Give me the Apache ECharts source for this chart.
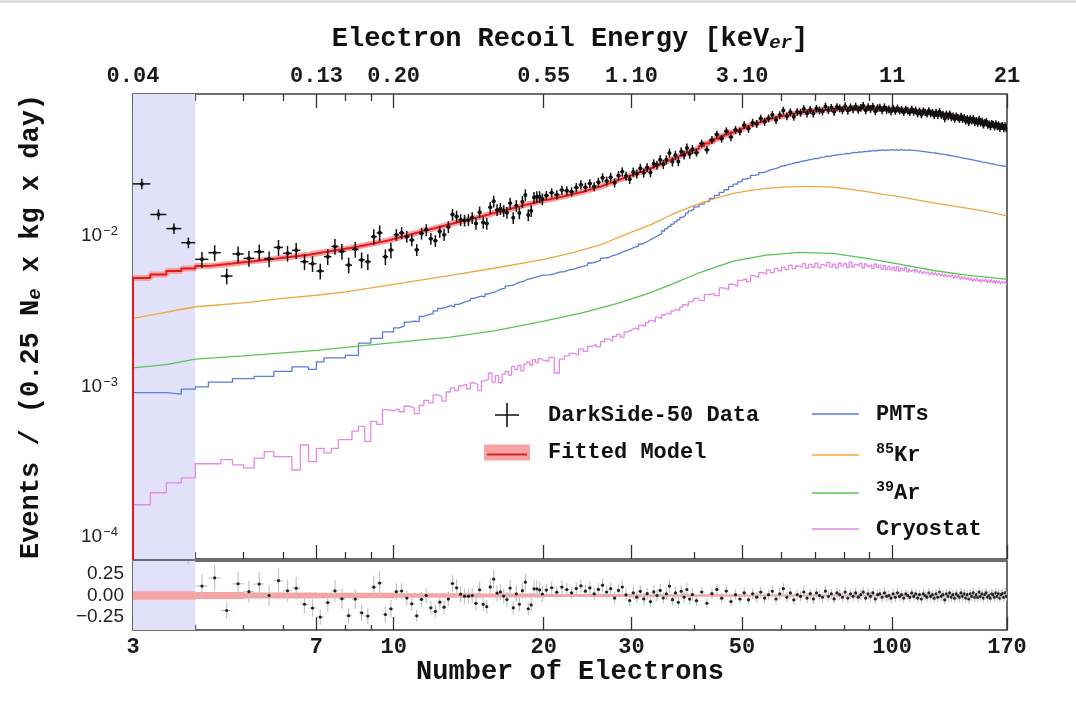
<!DOCTYPE html>
<html>
<head>
<meta charset="utf-8">
<title>DarkSide-50 electron spectrum</title>
<script src="https://cdn.jsdelivr.net/npm/echarts@6/dist/echarts.min.js"></script>
<style>
  html, body { margin: 0; padding: 0; background: #fff; }
  #chart { width: 1076px; height: 721px; }
</style>
</head>
<body>
<div id="chart"></div>
<script>
// binning of the spectrum: [from, to, width] in number of electrons
const binSegments = [[3, 20, 0.25], [20, 40, 0.5], [40, 170, 1]];

// DarkSide-50 data, events / (0.25 Ne x kg x day), one value per bin
const dataRate = [
  0.0222, 0.0139, 0.0112, 0.00903,
  0.0070, 0.00775, 0.00542, 0.0076, 0.00711, 0.00785, 0.00705, 0.0084, 0.00768, 0.00803, 0.00675, 0.00655,
  0.00585, 0.00729, 0.00853, 0.0079, 0.00641, 0.00816, 0.00694, 0.00675, 0.00989, 0.0105, 0.00729, 0.00807,
  0.0102, 0.0105, 0.0099, 0.0094, 0.0081, 0.0104, 0.0110, 0.0096, 0.0093, 0.0107,
  0.0102, 0.0115, 0.0139, 0.0135, 0.0128, 0.0127, 0.0128, 0.0132, 0.0121, 0.0144,
  0.0123, 0.0121, 0.0155, 0.0170, 0.0149, 0.0152, 0.0147, 0.0143, 0.0165, 0.0132,
  0.0159, 0.0142, 0.0169, 0.0187, 0.0138, 0.0147, 0.0180, 0.0182, 0.0182, 0.0176,
  0.0186, 0.0194, 0.0188, 0.0202, 0.0200, 0.0197, 0.0210, 0.0219, 0.0211, 0.0223,
  0.0213, 0.0228, 0.0244, 0.0232, 0.0246, 0.0226, 0.0252, 0.0267, 0.0250, 0.0238,
  0.0266, 0.0259, 0.0282, 0.0263, 0.0285, 0.0264, 0.0302, 0.0296, 0.0321, 0.0300,
  0.0321, 0.0356, 0.0311, 0.0344, 0.0313, 0.0364, 0.0346, 0.0385, 0.0351, 0.0376,
  0.0358, 0.0412, 0.0374, 0.0435, 0.0473, 0.0444, 0.0497, 0.0454, 0.0507, 0.0495,
  0.0546, 0.0516, 0.0566, 0.0556, 0.0603, 0.0574, 0.0606, 0.0638, 0.0591, 0.0636,
  0.0681, 0.0625, 0.0665, 0.0620, 0.0667, 0.0660, 0.0697, 0.0653, 0.0690, 0.0652,
  0.0702, 0.0685, 0.0674, 0.0726, 0.0687, 0.0711, 0.0670, 0.0719, 0.0706, 0.0686,
  0.0729, 0.0681, 0.0717, 0.0696, 0.0725, 0.0691, 0.0712, 0.0734, 0.0685, 0.0720,
  0.0699, 0.0725, 0.0675, 0.0708, 0.0714, 0.0684, 0.0718, 0.0689, 0.0695, 0.0672,
  0.0706, 0.0676, 0.0709, 0.0680, 0.0692, 0.0663, 0.0695, 0.0680, 0.0664, 0.0696,
  0.0667, 0.0685, 0.0650, 0.0676, 0.0640, 0.0678, 0.0663, 0.0648, 0.0679, 0.0651,
  0.0663, 0.0633, 0.0663, 0.0634, 0.0670, 0.0635, 0.0644, 0.0603, 0.0645, 0.0623,
  0.0646, 0.0612, 0.0627, 0.0599, 0.0627, 0.0612, 0.0597, 0.0624, 0.0597, 0.0613,
  0.0582, 0.0603, 0.0570, 0.0603, 0.0582, 0.0603, 0.0570, 0.0585, 0.0564, 0.0596,
  0.0565, 0.0579, 0.0548, 0.0568, 0.0576, 0.0546, 0.0554, 0.0534, 0.0559, 0.0551,
  0.0532, 0.0557, 0.0534, 0.0548, 0.0519, 0.0538, 0.0542, 0.0517, 0.0541, 0.0517
];

// fitted model, same bins
const fitModel = [
  0.00527, 0.00556, 0.00585, 0.00608,
  0.00631, 0.00644, 0.00656, 0.00669, 0.00681, 0.00693, 0.00705, 0.00717, 0.00728, 0.00740, 0.00751, 0.00766,
  0.00780, 0.00794, 0.00809, 0.00822, 0.00837, 0.00851, 0.00869, 0.00886, 0.00902, 0.00918, 0.00935, 0.00955,
  0.00977, 0.00998, 0.0102, 0.0104, 0.0106, 0.0109, 0.0110, 0.0112, 0.0114, 0.0116,
  0.0118, 0.0120, 0.0122, 0.0124, 0.0126, 0.0128, 0.0129, 0.0132, 0.0133, 0.0135,
  0.0137, 0.0139, 0.0141, 0.0143, 0.0145, 0.0146, 0.0148, 0.0150, 0.0152, 0.0154,
  0.0156, 0.0158, 0.0160, 0.0162, 0.0163, 0.0165, 0.0167, 0.0169, 0.0171, 0.0173,
  0.0175, 0.0178, 0.0181, 0.0184, 0.0187, 0.0191, 0.0194, 0.0197, 0.0201, 0.0205,
  0.0209, 0.0213, 0.0218, 0.0223, 0.0228, 0.0233, 0.0238, 0.0243, 0.0248, 0.0253,
  0.0258, 0.0264, 0.0269, 0.0274, 0.0279, 0.0284, 0.0290, 0.0296, 0.0303, 0.0309,
  0.0315, 0.0321, 0.0327, 0.0334, 0.0340, 0.0347, 0.0353, 0.0360, 0.0366, 0.0372,
  0.0381, 0.0396, 0.0411, 0.0426, 0.0442, 0.0458, 0.0473, 0.0488, 0.0502, 0.0516,
  0.0530, 0.0543, 0.0555, 0.0567, 0.0580, 0.0592, 0.0600, 0.0608, 0.0616, 0.0624,
  0.0631, 0.0638, 0.0646, 0.0653, 0.0660, 0.0667, 0.0670, 0.0673, 0.0676, 0.0679,
  0.0682, 0.0685, 0.0688, 0.0691, 0.0694, 0.0697, 0.0698, 0.0698, 0.0699, 0.0700,
  0.0701, 0.0702, 0.0703, 0.0703, 0.0704, 0.0705, 0.0705, 0.0706, 0.0706, 0.0706,
  0.0706, 0.0704, 0.0703, 0.0701, 0.0700, 0.0698, 0.0697, 0.0696, 0.0695, 0.0693,
  0.0692, 0.0690, 0.0688, 0.0687, 0.0685, 0.0683, 0.0681, 0.0680, 0.0678, 0.0676,
  0.0674, 0.0672, 0.0670, 0.0669, 0.0667, 0.0665, 0.0663, 0.0661, 0.0659, 0.0658,
  0.0656, 0.0653, 0.0650, 0.0647, 0.0644, 0.0641, 0.0638, 0.0635, 0.0632, 0.0629,
  0.0627, 0.0624, 0.0621, 0.0618, 0.0615, 0.0612, 0.0609, 0.0606, 0.0603, 0.0601,
  0.0600, 0.0597, 0.0594, 0.0591, 0.0588, 0.0585, 0.0582, 0.0579, 0.0576, 0.0573,
  0.0571, 0.0568, 0.0565, 0.0562, 0.0559, 0.0557, 0.0554, 0.0551, 0.0548, 0.0546,
  0.0543, 0.0541, 0.0539, 0.0537, 0.0535, 0.0533, 0.0531, 0.0528, 0.0525, 0.0522
];

// PMT component, same bins
const pmts = [
  0.00091, 0.00091, 0.00089, 0.00096,
  0.000995, 0.00107, 0.00107, 0.00113, 0.00113, 0.00117, 0.00117, 0.00126, 0.00126, 0.00135, 0.00135, 0.00130,
  0.00146, 0.00155, 0.00155, 0.00155, 0.00161, 0.00161, 0.00194, 0.00194, 0.00209, 0.00209, 0.00231, 0.00231,
  0.00245, 0.00252, 0.00268, 0.00272, 0.00270, 0.00292, 0.00300, 0.00305, 0.00318, 0.00330,
  0.00336, 0.00345, 0.00340, 0.00352, 0.00360, 0.00368, 0.00372, 0.00385, 0.00392, 0.00398,
  0.00396, 0.00412, 0.00420, 0.00425, 0.00438, 0.00445, 0.00450, 0.00466, 0.00470, 0.00476,
  0.00488, 0.00495, 0.00500, 0.00514, 0.00519, 0.00525, 0.00532, 0.00540, 0.00546, 0.00550,
  0.00552, 0.00560, 0.00575, 0.00580, 0.00596, 0.00603, 0.00618, 0.00628, 0.00640, 0.00662,
  0.00672, 0.00690, 0.00712, 0.00720, 0.00740, 0.00752, 0.00770, 0.00792, 0.00805, 0.00824,
  0.00845, 0.00858, 0.00885, 0.00905, 0.00930, 0.00958, 0.00985, 0.0101, 0.0104, 0.0108,
  0.0112, 0.0116, 0.0120, 0.0124, 0.0128, 0.0133, 0.0137, 0.0142, 0.0147, 0.0151,
  0.0156, 0.0163, 0.0169, 0.0178, 0.0186, 0.0195, 0.0203, 0.0214, 0.0221, 0.0229,
  0.0239, 0.0244, 0.0253, 0.0256, 0.0264, 0.0268, 0.0275, 0.0279, 0.0284, 0.0291,
  0.0293, 0.0299, 0.0302, 0.0307, 0.0309, 0.0315, 0.0316, 0.0321, 0.0323, 0.0328,
  0.0327, 0.0333, 0.0334, 0.0339, 0.0338, 0.0343, 0.0344, 0.0347, 0.0349, 0.0350,
  0.0354, 0.0352, 0.0357, 0.0359, 0.0358, 0.0362, 0.0361, 0.0365, 0.0364, 0.0368,
  0.0366, 0.0370, 0.0368, 0.0372, 0.0370, 0.0373, 0.0371, 0.0374, 0.0372, 0.0375,
  0.0372, 0.0374, 0.0371, 0.0375, 0.0372, 0.0374, 0.0370, 0.0373, 0.0369, 0.0371,
  0.0368, 0.0369, 0.0365, 0.0367, 0.0362, 0.0364, 0.0360, 0.0361, 0.0357, 0.0358,
  0.0355, 0.0356, 0.0352, 0.0353, 0.0349, 0.0350, 0.0346, 0.0347, 0.0343, 0.0344,
  0.0340, 0.0341, 0.0337, 0.0337, 0.0334, 0.0334, 0.0330, 0.0331, 0.0327, 0.0328,
  0.0324, 0.0325, 0.0321, 0.0322, 0.0318, 0.0319, 0.0315, 0.0316, 0.0312, 0.0313,
  0.0310, 0.0310, 0.0307, 0.0308, 0.0304, 0.0305, 0.0302, 0.0302, 0.0299, 0.0300,
  0.0297, 0.0297, 0.0295, 0.0295, 0.0293, 0.0293, 0.0291, 0.0291, 0.0289, 0.0289
];

// cryostat component, same bins
const cryostat = [
  0.000164, 0.000197, 0.000229, 0.000247,
  0.000307, 0.000307, 0.000327, 0.000302, 0.000288, 0.000335, 0.000369, 0.000342, 0.000342, 0.000279, 0.000409, 0.000317,
  0.000388, 0.000362, 0.000388, 0.000444, 0.000444, 0.000505, 0.000544, 0.000432, 0.000587, 0.000560, 0.000703, 0.000690,
  0.00071, 0.00068, 0.00074, 0.00072, 0.00066, 0.00075, 0.00081, 0.00078, 0.00088, 0.00086,
  0.00080, 0.00092, 0.00098, 0.00094, 0.00101, 0.00104, 0.00096, 0.00106, 0.00103, 0.00094,
  0.00109, 0.00112, 0.00123, 0.00107, 0.00118, 0.00106, 0.00121, 0.00126, 0.00119, 0.00136,
  0.00130, 0.00138, 0.00127, 0.00141, 0.00146, 0.00139, 0.00151, 0.00144, 0.00153, 0.00149,
  0.00147, 0.00156, 0.00123, 0.00152, 0.00160, 0.00166, 0.00162, 0.00178, 0.00171, 0.00185,
  0.00190, 0.00184, 0.00199, 0.00207, 0.00201, 0.00215, 0.00222, 0.00213, 0.00231, 0.00238,
  0.00245, 0.00239, 0.00256, 0.00251, 0.00266, 0.00275, 0.00270, 0.00289, 0.00283, 0.00300,
  0.00308, 0.00302, 0.00318, 0.00326, 0.00319, 0.00337, 0.00350, 0.00343, 0.00365, 0.00372,
  0.00385, 0.00372, 0.00408, 0.00415, 0.00402, 0.00452, 0.00440, 0.00478, 0.00465, 0.00508,
  0.00520, 0.00498, 0.00545, 0.00530, 0.00571, 0.00560, 0.00595, 0.00572, 0.00610, 0.00588,
  0.00622, 0.00598, 0.00640, 0.00605, 0.00632, 0.00618, 0.00655, 0.00612, 0.00648, 0.00620,
  0.00660, 0.00615, 0.00645, 0.00628, 0.00668, 0.00622, 0.00650, 0.00612, 0.00662, 0.00630,
  0.00655, 0.00618, 0.00670, 0.00625, 0.00648, 0.00632, 0.00660, 0.00615, 0.00652, 0.00628,
  0.00645, 0.00610, 0.00652, 0.00618, 0.00640, 0.00602, 0.00635, 0.00598, 0.00628, 0.00595,
  0.00620, 0.00590, 0.00625, 0.00585, 0.00612, 0.00592, 0.00618, 0.00578, 0.00605, 0.00582,
  0.00600, 0.00572, 0.00598, 0.00568, 0.00590, 0.00560, 0.00585, 0.00562, 0.00580, 0.00552,
  0.00575, 0.00550, 0.00572, 0.00545, 0.00566, 0.00540, 0.00562, 0.00538, 0.00560, 0.00532,
  0.00555, 0.00530, 0.00552, 0.00522, 0.00545, 0.00528, 0.00548, 0.00515, 0.00540, 0.00518,
  0.00535, 0.00510, 0.00532, 0.00505, 0.00528, 0.00498, 0.00522, 0.00502, 0.00525, 0.00496,
  0.00518, 0.00492, 0.00515, 0.00498, 0.00520, 0.00488, 0.00512, 0.00490, 0.00515, 0.00485,
  0.00510, 0.00482, 0.00508, 0.00488, 0.00505, 0.00478, 0.00502, 0.00485, 0.00498, 0.00480
];

// smooth components, read at a few electron counts
const kr85N = [3, 4, 5, 6, 7, 8, 10, 13, 16, 20, 23, 26, 30, 33, 36, 40, 44, 48, 52, 56,
  60, 65, 70, 76, 82, 89, 96, 104, 112, 121, 130, 141, 155, 170];
const kr85 = [0.00284, 0.00339, 0.00360, 0.00385, 0.00404, 0.00425, 0.00478, 0.00548, 0.00613, 0.00700,
  0.00780, 0.00875, 0.0106, 0.0120, 0.0138, 0.0159, 0.0177, 0.0192, 0.0201, 0.0207,
  0.0211, 0.0213, 0.0213, 0.0211, 0.0205, 0.0197, 0.0189, 0.0182, 0.0174, 0.0166,
  0.0160, 0.0153, 0.0145, 0.0136];
const ar39N = [3, 3.5, 4, 5, 7, 10, 13, 16, 20, 24, 28, 32, 36, 41, 48, 56, 65, 76, 89, 104, 121, 141, 170];
const ar39 = [0.00133, 0.00140, 0.00152, 0.00160, 0.00174, 0.00196, 0.00213, 0.00235, 0.00272, 0.00310,
  0.00355, 0.00410, 0.00475, 0.00570, 0.00680, 0.00746, 0.00778, 0.00767, 0.00711, 0.00649,
  0.00590, 0.00550, 0.00515];

// relative error bar size, starting at these electron counts
const errFromN = [3, 4, 10, 20, 40, 100];
const errRel = [0.08, 0.12, 0.09, 0.07, 0.06, 0.055];

// model uncertainty band in the residual panel: edges and half widths
const bandEdges = [3, 4, 5, 7, 10, 15, 20, 30, 50, 100, 170];
const bandHalf = [0.05, 0.04, 0.036, 0.032, 0.027, 0.022, 0.018, 0.015, 0.012, 0.011];

const thresholdRange = [3, 4];
const xMajor = [3, 7, 10, 20, 30, 50, 100, 170];
const xMinor = [4, 5, 6, 8, 9, 40, 60, 70, 80, 90];
const energyLabels = ['0.04', '0.13', '0.20', '0.55', '1.10', '3.10', '11', '21'];
const yMajor = [1e-4, 1e-3, 1e-2];
const resMajor = [-0.25, 0, 0.25];
const resMinor = [-0.35, -0.3, -0.2, -0.15, -0.1, -0.05, 0.05, 0.1, 0.15, 0.2, 0.3, 0.35];

// ---- build bins
const binLo = [], binHi = [];
binSegments.forEach(([a, b, w]) => {
  for (let k = 0; a + k * w < b - 1e-9; k++) {
    binLo.push(a + k * w);
    binHi.push(a + (k + 1) * w);
  }
});
[dataRate, fitModel, pmts, cryostat].forEach((arr, i) => {
  if (arr.length !== binLo.length) throw new Error('array ' + i + ' has ' + arr.length + ' values, expected ' + binLo.length);
});

function errAt(n) {
  let e = errRel[0];
  errFromN.forEach((s, i) => { if (n >= s) e = errRel[i]; });
  return e;
}

function histLine(vals, dropLeft) {
  const pts = dropLeft ? [[binLo[0], 1e-7]] : [];
  vals.forEach((v, i) => pts.push([binLo[i], v]));
  pts.push([binHi[binHi.length - 1], vals[vals.length - 1]]);
  return pts;
}

function nearestIndex(arr, v) {
  let best = 0;
  arr.forEach((a, i) => {
    if (Math.abs(Math.log(a / v)) < Math.abs(Math.log(arr[best] / v))) best = i;
  });
  return best;
}

const dataItems = dataRate.map((v, i) =>
  [(binLo[i] + binHi[i]) / 2, v, binLo[i], binHi[i], errAt(binLo[i]) * v]);
const resItems = dataRate.map((v, i) => {
  const r = v / fitModel[i];
  return [(binLo[i] + binHi[i]) / 2, r - 1, binLo[i], binHi[i], errAt(binLo[i]) * r];
});
const bandItems = bandHalf.map((h, i) => [bandEdges[i], bandEdges[i + 1], h]);

function clipOf(params) {
  const cs = params.coordSys;
  return { type: 'rect', shape: { x: cs.x, y: cs.y, width: cs.width, height: cs.height } };
}

function crossRenderer(barColor, dotColor, dotR, lw) {
  return function (params, api) {
    const xc = api.value(0), y = api.value(1), lo = api.value(2), hi = api.value(3), e = api.value(4);
    const c = api.coord([xc, y]);
    const l = api.coord([lo, y]), h = api.coord([hi, y]);
    const up = api.coord([xc, y + e]), dn = api.coord([xc, y - e]);
    return {
      type: 'group',
      clipPath: clipOf(params),
      children: [
        { type: 'line', shape: { x1: l[0], y1: c[1], x2: h[0], y2: c[1] }, style: { stroke: barColor, lineWidth: lw } },
        { type: 'line', shape: { x1: c[0], y1: up[1], x2: c[0], y2: dn[1] }, style: { stroke: barColor, lineWidth: lw } },
        { type: 'circle', shape: { cx: c[0], cy: c[1], r: dotR }, style: { fill: dotColor } }
      ]
    };
  };
}

const MONO = 'Liberation Mono';
const SANS = 'Liberation Sans';
const tickColor = '#333';
const tickStyle = { color: tickColor, width: 1.3 };

const monoLabel = { fontFamily: MONO, fontWeight: 'bold', fontSize: 22, color: '#1a1a1a' };
const titleRich = {
  t: { fontFamily: MONO, fontWeight: 'bold', fontSize: 27, color: '#111' },
  s: { fontFamily: MONO, fontWeight: 'bold', fontStyle: 'italic', fontSize: 19, color: '#111', padding: [9, 0, 0, 0] }
};

const baseX = { type: 'log', min: 3, max: 170, axisLine: { show: false, onZero: false }, splitLine: { show: false } };
function xAxisDef(gridIndex, position, ticks, length, label, extra) {
  return Object.assign({}, baseX, {
    gridIndex: gridIndex,
    position: position,
    axisTick: { inside: true, length: length, customValues: ticks, lineStyle: tickStyle },
    axisLabel: label || { show: false }
  }, extra || {});
}

const legendText = { fontFamily: MONO, fontWeight: 'bold', fontSize: 22, color: '#111' };
const legendRich = {
  t: { fontFamily: MONO, fontWeight: 'bold', fontSize: 22, color: '#111', lineHeight: 26 },
  sup: { fontFamily: MONO, fontWeight: 'bold', fontSize: 15, color: '#111', lineHeight: 15, padding: [0, 0, 11, 0] }
};
const isotopeParts = { '85Kr': ['85', 'Kr'], '39Ar': ['39', 'Ar'] };
function legendFormatter(name) {
  const p = isotopeParts[name];
  return p ? '{sup|' + p[0] + '}{t|' + p[1] + '}' : '{t|' + name + '}';
}
function legendAt(item, left, centerY, itemWidth, gapText) {
  return {
    data: [item], left: left, top: centerY - 13, padding: 0,
    itemWidth: itemWidth, itemHeight: 26, selectedMode: false,
    formatter: legendFormatter,
    textStyle: Object.assign({}, legendText, { padding: [0, 0, 0, gapText], rich: legendRich })
  };
}
// thin line icon for the component legends, cross with a 46 px wide box for the data
const lineIcon = 'path://M0,0h47v1.4h-47z';
const crossIcon = 'path://M0,0h0.01v0.01h-0.01z M45.99,0h0.01v0.01h-0.01z M11,11.2h24v1.6h-24z M22.2,0h1.6v24h-1.6z';

const colors = {
  fitBand: '#f6a3a3', fit: '#e3191e', pmt: '#5a7bd8', kr: '#f2a63c', ar: '#57c457', cryo: '#e488e6'
};

const option = {
  animation: false,
  backgroundColor: '#fff',
  grid: [
    { left: 133, right: 69, top: 94, height: 465, show: true, borderColor: '#3c3c3c', borderWidth: 1.5 },
    { left: 133, right: 69, top: 561, height: 69, show: true, borderColor: '#3c3c3c', borderWidth: 1.5 }
  ],
  xAxis: [
    xAxisDef(0, 'bottom', xMajor, 14),
    xAxisDef(0, 'bottom', xMinor, 7),
    xAxisDef(0, 'top', xMajor, 14, Object.assign({
      customValues: xMajor, margin: 7,
      formatter: v => energyLabels[nearestIndex(xMajor, v)]
    }, monoLabel), {
      name: '{t|Electron Recoil Energy [keV}{s|er}{t|]}',
      nameLocation: 'middle', nameGap: 41,
      nameTextStyle: { rich: titleRich }
    }),
    xAxisDef(0, 'top', xMinor, 7),
    xAxisDef(1, 'bottom', xMajor, 13, Object.assign({
      customValues: xMajor, margin: 6,
      formatter: v => String(xMajor[nearestIndex(xMajor, v)])
    }, monoLabel), {
      name: '{t|Number of Electrons}',
      nameLocation: 'middle', nameGap: 27,
      nameTextStyle: { rich: titleRich }
    }),
    xAxisDef(1, 'bottom', xMinor, 5)
  ],
  yAxis: [
    {
      gridIndex: 0, type: 'log', min: 7.15e-5, max: 0.0878, position: 'left',
      axisLine: { show: false, onZero: false }, splitLine: { show: false },
      axisTick: { inside: true, length: 13, customValues: yMajor, lineStyle: tickStyle },
      axisLabel: {
        customValues: yMajor, margin: 15,
        formatter: v => '{b|10}{e|\u2212' + Math.round(-Math.log10(v)) + '}',
        rich: {
          b: { fontFamily: SANS, fontSize: 19, color: '#222' },
          e: { fontFamily: SANS, fontSize: 13, color: '#222', lineHeight: 13, padding: [0, 0, 9, 1] }
        }
      },
      name: '{t|Events / (0.25 N}{s|e}{t| x kg x day)}',
      nameLocation: 'middle', nameRotate: 90, nameGap: 88,
      nameTextStyle: { rich: titleRich }
    },
    {
      gridIndex: 1, type: 'value', min: -0.4, max: 0.4, position: 'left',
      axisLine: { show: false, onZero: false }, splitLine: { show: false },
      axisTick: { inside: true, length: 14, customValues: resMajor, lineStyle: tickStyle },
      axisLabel: {
        customValues: resMajor, margin: 9,
        fontFamily: SANS, fontSize: 19, color: '#222',
        formatter: v => (v < 0 ? '\u2212' : '') + Math.abs(v).toFixed(2)
      }
    },
    {
      gridIndex: 1, type: 'value', min: -0.4, max: 0.4, position: 'left',
      axisLine: { show: false, onZero: false }, splitLine: { show: false },
      axisTick: { inside: true, length: 6, customValues: resMinor, lineStyle: tickStyle },
      axisLabel: { show: false }
    }
  ],
  legend: [
    legendAt({ name: 'DarkSide-50 Data', icon: crossIcon, itemStyle: { color: '#111' } }, 484, 416, 46, 13),
    legendAt({ name: 'Fitted Model', icon: 'path://M0,0h46v16h-46z', itemStyle: { color: colors.fitBand } }, 484, 454.5, 46, 13),
    legendAt({ name: 'PMTs', icon: lineIcon, itemStyle: { color: colors.pmt } }, 812, 416, 47, 12),
    legendAt({ name: '85Kr', icon: lineIcon, itemStyle: { color: colors.kr } }, 812, 455, 47, 12),
    legendAt({ name: '39Ar', icon: lineIcon, itemStyle: { color: colors.ar } }, 812, 493, 47, 12),
    legendAt({ name: 'Cryostat', icon: lineIcon, itemStyle: { color: colors.cryo } }, 812, 531, 47, 12)
  ],
  graphic: [
    { type: 'line', z: 100, shape: { x1: 487, y1: 454.5, x2: 527, y2: 454.5 }, style: { stroke: '#d0262b', lineWidth: 2 } },
    { type: 'line', z: 100, shape: { x1: 0, y1: 1.5, x2: 1076, y2: 1.5 }, style: { stroke: '#cfcfcf', lineWidth: 2 } }
  ],
  series: [
    {
      name: 'Fitted Model', type: 'line', xAxisIndex: 0, yAxisIndex: 0, step: 'end',
      data: histLine(fitModel, false), symbol: 'none', silent: true, z: 3,
      lineStyle: { color: colors.fitBand, width: 6 }, itemStyle: { color: colors.fitBand },
      markArea: {
        silent: true, itemStyle: { color: '#e1e1f9' },
        data: [[{ xAxis: thresholdRange[0] }, { xAxis: thresholdRange[1] }]]
      }
    },
    {
      name: 'Fitted Model', type: 'line', xAxisIndex: 0, yAxisIndex: 0, step: 'end',
      data: histLine(fitModel, true), symbol: 'none', silent: true, z: 4,
      lineStyle: { color: colors.fit, width: 2 }, itemStyle: { color: colors.fit }
    },
    {
      name: 'PMTs', type: 'line', xAxisIndex: 0, yAxisIndex: 0, step: 'end',
      data: histLine(pmts, false), symbol: 'none', silent: true, z: 3,
      lineStyle: { color: colors.pmt, width: 1.3 }, itemStyle: { color: colors.pmt }
    },
    {
      name: '85Kr', type: 'line', xAxisIndex: 0, yAxisIndex: 0,
      data: kr85N.map((n, i) => [n, kr85[i]]), symbol: 'none', silent: true, z: 3,
      lineStyle: { color: colors.kr, width: 1.3 }, itemStyle: { color: colors.kr }
    },
    {
      name: 'Cryostat', type: 'line', xAxisIndex: 0, yAxisIndex: 0, step: 'end',
      data: histLine(cryostat, false), symbol: 'none', silent: true, z: 3,
      lineStyle: { color: colors.cryo, width: 1.3 }, itemStyle: { color: colors.cryo }
    },
    {
      name: '39Ar', type: 'line', xAxisIndex: 0, yAxisIndex: 0,
      data: ar39N.map((n, i) => [n, ar39[i]]), symbol: 'none', silent: true, z: 3,
      lineStyle: { color: colors.ar, width: 1.3 }, itemStyle: { color: colors.ar }
    },
    {
      name: 'DarkSide-50 Data', type: 'custom', xAxisIndex: 0, yAxisIndex: 0, z: 5,
      dimensions: ['n', 'rate', 'lo', 'hi', 'err'], encode: { x: 'n', y: 'rate' },
      itemStyle: { color: '#111' },
      renderItem: crossRenderer('#111', '#111', 2, 1.5),
      data: dataItems
    },
    {
      name: 'model band', type: 'custom', xAxisIndex: 4, yAxisIndex: 1, z: 2, silent: true,
      dimensions: ['from', 'to', 'half'], encode: { x: ['from', 'to'], y: 'half' },
      renderItem: function (params, api) {
        const a = api.coord([api.value(0), api.value(2)]);
        const b = api.coord([api.value(1), -api.value(2)]);
        return {
          type: 'rect', clipPath: clipOf(params),
          shape: { x: a[0], y: a[1], width: b[0] - a[0] + 0.5, height: b[1] - a[1] },
          style: { fill: colors.fitBand }
        };
      },
      data: bandItems,
      markArea: {
        silent: true, itemStyle: { color: '#e1e1f9' },
        data: [[{ xAxis: thresholdRange[0] }, { xAxis: thresholdRange[1] }]]
      }
    },
    {
      name: 'residual', type: 'custom', xAxisIndex: 4, yAxisIndex: 1, z: 5,
      dimensions: ['n', 'res', 'lo', 'hi', 'err'], encode: { x: 'n', y: 'res' },
      renderItem: crossRenderer('#c4c4c4', '#222', 1.6, 1.2),
      data: resItems
    }
  ]
};

const chart = echarts.init(document.getElementById('chart'));
chart.setOption(option);
</script>
</body>
</html>
